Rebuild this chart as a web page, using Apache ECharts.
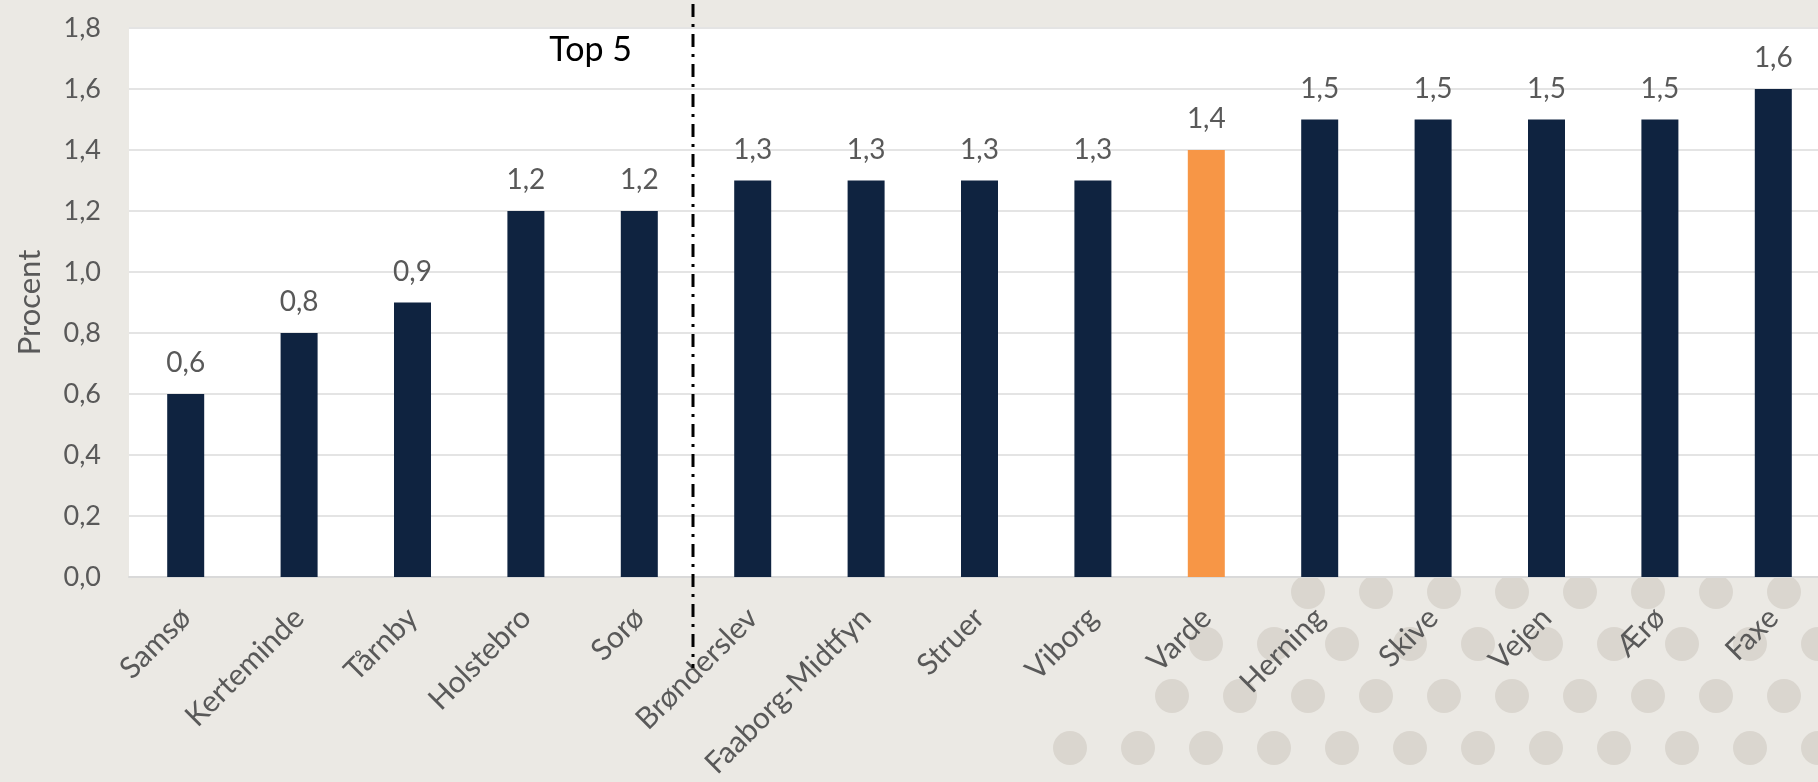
<!DOCTYPE html>
<html>
<head>
<meta charset="utf-8">
<script src="https://cdn.jsdelivr.net/npm/echarts@6/dist/echarts.min.js"></script>
<style>
html,body{margin:0;padding:0;background:#EBE9E4;}
#chart{width:1818px;height:782px;}
</style>
</head>
<body>
<div id="chart"></div>
<script>
const categories = ['Samsø','Kerteminde','Tårnby','Holstebro','Sorø','Brønderslev','Faaborg-Midtfyn','Struer','Viborg','Varde','Herning','Skive','Vejen','Ærø','Faxe'];
const values = [0.6,0.8,0.9,1.2,1.2,1.3,1.3,1.3,1.3,1.4,1.5,1.5,1.5,1.5,1.6];
const highlight = 'Varde';
const yTicks = [0,0.2,0.4,0.6,0.8,1.0,1.2,1.4,1.6,1.8];
const dividerAfter = 'Sorø';
const groupLabel = 'Top 5';
const yAxisName = 'Procent';

const NAVY = '#0F2340', ORANGE = '#F79646', GRAY = '#595959';
const FONT = 'Lato, "Open Sans", sans-serif';
const fmt = v => v.toFixed(1).replace('.', ',');

const chart = echarts.init(document.getElementById('chart'));

// decorative dot pattern (background only)
const dots = [];
for (let r = 0; r < 6; r++) {
  const y = 592 + r * 52;
  const off = (r % 2) * 34;
  for (let c = 0; c < 30; c++) {
    const x = 900 + off + c * 68;
    if (y > 800) continue;
    if (x < 1040 + (760 - y) * 1.2) continue;
    dots.push({type:'circle', silent:true, z:-10, shape:{cx:x, cy:y, r:17}, style:{fill:'#DAD6CF'}});
  }
}

chart.setOption({
  backgroundColor: '#EBE9E4',
  animation: false,
  textStyle: {fontFamily: FONT},
  grid: {left: 129, right: -12, top: 28, bottom: 205, show: true, backgroundColor: '#FFFFFF', borderWidth: 0,
         containLabel: false, outerBoundsMode: 'none'},
  xAxis: {
    type: 'category', data: categories,
    axisLine: {show: true, lineStyle: {color: '#D9D9D9', width: 2}},
    axisTick: {show: false},
    axisLabel: {rotate: 45, margin: 36, fontSize: 30, color: GRAY, fontFamily: FONT, interval: 0}
  },
  yAxis: {
    type: 'value', min: 0, max: 1.8, interval: 0.2,
    name: yAxisName, nameLocation: 'middle', nameGap: 84,
    nameTextStyle: {fontSize: 31, color: GRAY, fontFamily: FONT},
    axisLine: {show: false}, axisTick: {show: false},
    axisLabel: {margin: 28, fontSize: 27, color: GRAY, fontFamily: FONT, formatter: v => {
      const t = yTicks.find(k => Math.abs(k - v) < 1e-9); return t === undefined ? '' : fmt(t);
    }},
    splitLine: {lineStyle: {color: '#E4E4E4', width: 2}}
  },
  series: [{
    type: 'bar', barWidth: 37,
    data: values.map((v, i) => ({value: v, itemStyle: {color: categories[i] === highlight ? ORANGE : NAVY}})),
    label: {show: true, position: 'top', distance: 17, fontSize: 28, color: GRAY, fontFamily: FONT, formatter: p => fmt(p.value)}
  }],
  graphic: dots
});

// divider and group label placed via the axis scale
const i0 = categories.indexOf(dividerAfter);
const xa = chart.convertToPixel({xAxisIndex: 0}, categories[i0]);
const xb = chart.convertToPixel({xAxisIndex: 0}, categories[i0 + 1]);
const xPrev = chart.convertToPixel({xAxisIndex: 0}, categories[i0 - 1]);
const xDiv = (xa + xb) / 2 - 3;
chart.setOption({
  graphic: dots.concat([
    {type: 'line', silent: true, z: 100, shape: {x1: xDiv, y1: 4, x2: xDiv, y2: 668},
     style: {stroke: '#000', lineWidth: 3, lineDash: [13, 7, 3, 7]}},
    {type: 'text', silent: true, z: 100, x: (xa + xPrev) / 2 + 8, y: 50,
     style: {text: groupLabel, fill: '#000', fontSize: 34, fontWeight: 'normal', fontFamily: FONT, align: 'center', verticalAlign: 'middle'}}
  ])
});
</script>
</body>
</html>
